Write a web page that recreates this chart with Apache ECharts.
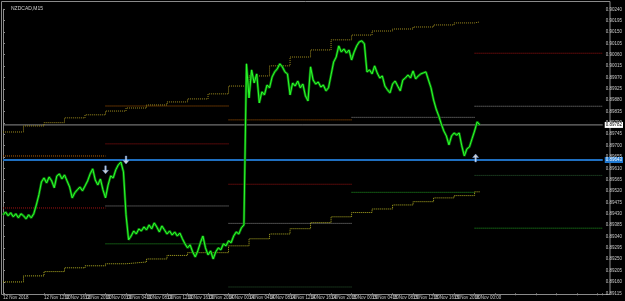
<!DOCTYPE html>
<html><head><meta charset="utf-8">
<script src="https://cdn.jsdelivr.net/npm/echarts@6/dist/echarts.min.js"></script>
<style>html,body{margin:0;padding:0;background:#000;}#c{width:625px;height:301px;}</style>
</head><body><div id="c"></div>
<script>
const chartTitle = 'NZDCAD,M15';
const yMin = 0.89115, yMax = 0.90240, yStep = 0.00045;
const xTickLabels = ["12 Nov 2018","12 Nov 08:00","12 Nov 12:00","12 Nov 16:00","12 Nov 20:00","13 Nov 00:00","13 Nov 04:00","13 Nov 08:00","13 Nov 12:00","13 Nov 16:00","13 Nov 20:00","14 Nov 00:00","14 Nov 04:00","14 Nov 08:00","14 Nov 12:00","14 Nov 16:00","14 Nov 20:00","15 Nov 00:00","15 Nov 04:00","15 Nov 08:00","15 Nov 12:00","15 Nov 16:00","15 Nov 20:00","16 Nov 00:00"];
const priceStartHour = 0, priceStepHour = 0.5;
const closePrices = [
0.89426,0.89437,0.89422,0.89434,0.89418,0.89430,0.89414,0.89430,0.89422,0.89410,
0.89426,0.89414,0.89430,0.89465,0.89505,0.89556,0.89572,0.89552,0.89576,0.89560,
0.89533,0.89580,0.89588,0.89568,0.89584,0.89560,0.89536,0.89493,0.89513,0.89525,
0.89536,0.89521,0.89540,0.89560,0.89588,0.89608,0.89564,0.89544,0.89568,0.89525,
0.89493,0.89544,0.89580,0.89572,0.89604,0.89624,0.89635,0.89596,0.89426,0.89327,
0.89342,0.89362,0.89350,0.89370,0.89362,0.89378,0.89366,0.89386,0.89370,0.89394,
0.89378,0.89358,0.89382,0.89366,0.89350,0.89362,0.89346,0.89358,0.89342,0.89354,
0.89331,0.89311,0.89295,0.89307,0.89279,0.89259,0.89283,0.89315,0.89342,0.89295,
0.89267,0.89283,0.89251,0.89279,0.89295,0.89287,0.89311,0.89303,0.89323,0.89315,
0.89342,0.89358,0.89350,0.89374,0.89386,0.90024,0.89889,0.90000,0.89948,0.89984,
0.89869,0.89913,0.89901,0.89940,0.89929,0.89972,0.89992,0.90004,0.90024,0.90012,
0.89992,0.89984,0.89901,0.89948,0.89936,0.89956,0.89929,0.89944,0.89897,0.89877,
0.90012,0.89960,0.89944,0.89952,0.89932,0.89940,0.89917,0.89929,0.89980,0.90031,
0.90051,0.90095,0.90071,0.90083,0.90067,0.90079,0.90039,0.90071,0.90095,0.90111,
0.90115,0.90103,0.89992,0.90000,0.89984,0.90016,0.89988,0.89968,0.89976,0.89936,
0.89921,0.89909,0.89944,0.89956,0.89936,0.89917,0.89960,0.89968,0.89980,0.89968,
0.89996,0.89964,0.89976,0.89984,0.89988,0.89992,0.89960,0.89929,0.89881,0.89845,
0.89818,0.89786,0.89758,0.89738,0.89703,0.89738,0.89750,0.89742,0.89750,0.89699,
0.89659,0.89687,0.89695,0.89727,0.89758,0.89794,0.89782];
const bandHours = [0,4,8,12,16,20,24,28,32,36,40,44,48,52,56,60,64,68,72,76,80,84,88,92,93];
const upperBand = [0.89754,0.89778,0.89791,0.89810,0.89822,0.89837,0.89849,0.89861,0.89873,0.89885,0.89905,0.89936,0.89976,0.90016,0.90051,0.90079,0.90119,0.90138,0.90154,0.90162,0.90170,0.90178,0.90186,0.90190,0.90190];
const lowerBand = [0.89160,0.89184,0.89201,0.89216,0.89224,0.89232,0.89239,0.89251,0.89265,0.89276,0.89276,0.89303,0.89331,0.89350,0.89371,0.89395,0.89418,0.89435,0.89449,0.89465,0.89478,0.89493,0.89502,0.89517,0.89517];
const levelFrom  = [0, 0, 20, 20, 20, 20, 44, 44, 44, 44, 68, 68, 92, 92, 92, 92];
const levelTo    = [20, 20, 44, 44, 44, 44, 68, 68, 68, 68, 92, 92, 117, 117, 117, 117];
const levelPrice = [0.89659,0.89453, 0.89857,0.89707,0.89461,0.89311, 0.89802,0.89547,0.89392,0.89140, 0.89812,0.89515, 0.90066,0.89856,0.89582,0.89373];
const levelKind  = ['orange','red', 'orange','red','gray','green', 'orange','red','gray','dimgreen', 'gray','green', 'red','gray','dimgreen','green'];
const currentPrice = 0.89782;
const bluePrice = 0.89643;
const chartStartHour = 0, chartEndHour = 117;
const arrowHours = [20, 24, 92.2];
const arrowPrices = [0.89604, 0.89643, 0.89651];
const arrowDir = ['down', 'down', 'up'];

const kindColor = {orange:'#b35c00', red:'#a01212', gray:'#8e8e8e', green:'#22a022', dimgreen:'#2a5e32'};

const chart = echarts.init(document.getElementById('c'), null, {renderer:'canvas'});
const priceData = closePrices.map((p,i)=>[priceStartHour + i*priceStepHour, p]);
const levelSeries = levelPrice.map((p,i)=>({
  type:'line', symbol:'none', silent:true, z:2,
  data:[[levelFrom[i], p],[levelTo[i], p]],
  lineStyle:{color:kindColor[levelKind[i]], width:1, type:[1,1]}
}));
const arrowPath = 'path://M3,0 L5,0 L5,5 L8,5 L4,9 L0,5 L3,5 Z';
const smallFont = 'Liberation Sans Narrow, Liberation Sans, sans-serif';

function hLine(price, color, width, bg, fg, z){
  return {type:'line', symbol:'none', silent:true, z:z,
    data:[[chartStartHour, price],[chartEndHour, price]],
    lineStyle:{color:color, width:width, type:'solid'},
    endLabel:{show:true, distance:2, formatter:()=>price.toFixed(5), backgroundColor:bg, color:fg,
      fontSize:4.5, fontFamily:smallFont, padding:[1,1,0,1]}};
}

chart.setOption({
  animation:false,
  backgroundColor:'#000000',
  title:{text:chartTitle, left:6, top:1, textStyle:{color:'#d0d0d0', fontSize:5, fontWeight:'normal', fontFamily:smallFont}},
  grid:{left:2, right:15, top:9.3, bottom:7.7},
  graphic:[{type:'rect', shape:{x:1.5, y:1.5, width:608.5, height:293}, style:{fill:'none', stroke:'#8a8a8a', lineWidth:1}, silent:true, z:-1}],
  xAxis:{type:'value', min:chartStartHour, max:chartEndHour, interval:4,
    axisLine:{show:false}, splitLine:{show:false},
    axisTick:{show:true, length:2, lineStyle:{color:'#8a8a8a'}},
    axisLabel:{color:'#c8c8c8', fontSize:4.5, fontFamily:smallFont, align:'left', margin:2, showMinLabel:true, hideOverlap:false,
      formatter:(v)=>{const k=Math.round(v/4); return (Math.abs(v-k*4)<1e-6 && xTickLabels[k])?xTickLabels[k]:'';}}
  },
  yAxis:{type:'value', position:'right', min:yMin, max:yMax, interval:yStep,
    axisLine:{show:true, lineStyle:{color:'#8a8a8a'}},
    axisTick:{show:true, length:2, lineStyle:{color:'#8a8a8a'}},
    splitLine:{show:false},
    axisLabel:{color:'#c8c8c8', fontSize:4.5, fontFamily:smallFont, margin:3, formatter:(v)=>v.toFixed(5)}
  },
  series:[
    {type:'line', name:'upper', data:bandHours.map((h,i)=>[h, upperBand[i]]), step:'end', symbol:'none', silent:true,
      lineStyle:{color:'#9c8a1e', width:1, type:[1,1]}},
    {type:'line', name:'lower', data:bandHours.map((h,i)=>[h, lowerBand[i]]), step:'end', symbol:'none', silent:true,
      lineStyle:{color:'#b0ac22', width:1, type:[1,1]}},
    ...levelSeries,
    hLine(currentPrice, '#8c8c8c', 1, '#ffffff', '#000000', 2),
    hLine(bluePrice, '#1f6fc0', 2, '#1f78d0', '#ffffff', 2),
    {type:'line', name:'priceShadow', data:priceData, symbol:'none', silent:true, lineStyle:{color:'#0b7a0b', width:2.5}, z:3},
    {type:'line', name:'price', data:priceData, symbol:'none', silent:true, lineStyle:{color:'#2cff2c', width:1}, z:4},
    {type:'scatter', name:'arrows', z:6, silent:true, data:arrowHours.map((h,i)=>({value:[h, arrowPrices[i]], symbolRotate: arrowDir[i]==='up'?180:0})),
      symbol:arrowPath, symbolSize:[6,8], itemStyle:{color:'#ffffff', borderColor:'#6fa8ff', borderWidth:0.5}}
  ]
});
</script></body></html>
